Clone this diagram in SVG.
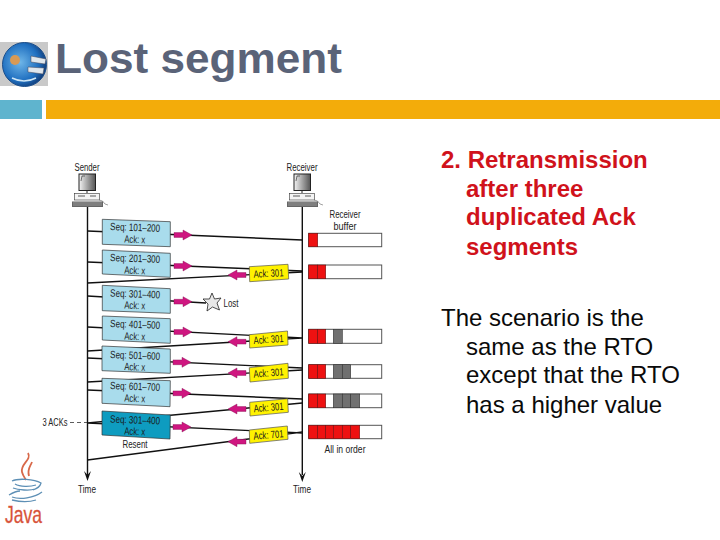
<svg xmlns="http://www.w3.org/2000/svg" width="720" height="540" viewBox="0 0 720 540">
<style>
text{font-family:"Liberation Sans",Arial,sans-serif}
.t{font-size:42px;font-weight:bold;fill:#5a6378}
.b{font-size:24px;font-weight:bold;fill:#d0121b}
.n{font-size:24px;fill:#0a0a0a}
.l{font-size:10px;fill:#222;text-anchor:middle}
.s{font-size:10.500px;fill:#1a1a1a;text-anchor:middle}
.c{stroke:#111;stroke-width:1.400;fill:none}
.seq{fill:#a9dcec;stroke:#333;stroke-width:.7}
.res{fill:#0e9cc0;stroke:#333;stroke-width:.7}
.ack{fill:#fff200;stroke:#555;stroke-width:.7}
.p{fill:#cf1680;stroke:#80104e;stroke-width:.4}
.buf{fill:#fff;stroke:#555;stroke-width:1}
.r{fill:#ee1111;stroke:#701010;stroke-width:.6}
.g{fill:#707070;stroke:#333;stroke-width:.6}
</style>
<defs>
<path id="ra" d="M0,-2.400H9V-5L18,0L9,5V2.400H0Z"/>
<path id="la" d="M18,-2.400H9V-5L0,0L9,5V2.400H18Z"/>
<linearGradient id="scr"><stop offset="0" stop-color="#f4f4f4"/><stop offset="1" stop-color="#555"/></linearGradient>
<radialGradient id="globe" cx=".4" cy=".45" r=".6"><stop offset="0" stop-color="#6fb6e8"/><stop offset=".7" stop-color="#1f6fc0"/><stop offset="1" stop-color="#123f7c"/></radialGradient>
<g id="pc">
<rect x="0" y="0" width="16.500" height="16.500" fill="url(#scr)" stroke="#222"/>
<path d="M3,2L2,7M3,2H6" stroke="#222" stroke-width=".6" fill="none"/>
<path d="M8,17V19" stroke="#222"/>
<rect x="-4.500" y="19.500" width="25" height="6.500" fill="#f4f4f4" stroke="#333" stroke-width=".6"/>
<path d="M-1,22H6M11,22H17" stroke="#333" stroke-width=".8"/>
<rect x="-7" y="27.500" width="31" height="5.500" fill="#666"/>
<path d="M-6,29H23M-6,31H23" stroke="#ccc" stroke-width=".5"/>
<path d="M20,26Q24,26 26,30L29,31" stroke="#444" stroke-width=".5" fill="none"/>
</g>
</defs>
<rect width="720" height="540" fill="#fff"/>
<g id="logo">
<rect x="0" y="42" width="48" height="44" fill="#c9c9c9"/>
<circle cx="24.500" cy="64.500" r="22" fill="url(#globe)" stroke="#1c4f8c" stroke-width="1"/>
<circle cx="15" cy="60" r="5" fill="#d99a55"/>
<path d="M31,56L46,59L45,64L31,62ZM28,67L44,68L43,74L28,72Z" fill="#dfe6ec" stroke="#445" stroke-width=".5"/>
<path d="M12,78Q24,84 36,78" stroke="#cfe6f5" stroke-width="1.500" fill="none"/>
</g>
<text class="t" x="55" y="73" textLength="287" lengthAdjust="spacingAndGlyphs">Lost segment</text>
<g id="header-bars">
<rect x="0" y="100" width="42" height="19" fill="#5fb4ce"/>
<rect x="46" y="100" width="674" height="19" fill="#f3ac0a"/>
</g>
<g id="connectors">
<path class="c" d="M87.500,207V475M302.300,207V475"/>
<path d="M84,471L87.500,481L91,471L87.500,475ZM298.800,472L302.300,482L305.800,472L302.300,476Z" fill="#111"/>
<path class="c" d="M87.500,231L302.300,240M87.500,262L302.300,271M302.300,272L87.500,283M87.500,296L206,303M87.500,327L302.300,338M302.300,338L87.500,351M87.500,358L302.300,368M302.300,370L87.500,382M87.500,390L302.300,399M302.300,403L87.500,423M87.500,423L302.300,433M302.300,432L87.500,460"/>
<path d="M70,422.500H87" stroke="#333" stroke-width=".8" stroke-dasharray="4 3"/>
</g>
<g id="sender"><text class="l" x="87" y="171" textLength="25" lengthAdjust="spacingAndGlyphs">Sender</text><use href="#pc" x="79" y="174"/></g>
<g id="receiver"><text class="l" x="302" y="171" textLength="31" lengthAdjust="spacingAndGlyphs">Receiver</text><use href="#pc" x="294" y="174"/></g>
<text class="l" x="345" y="218" textLength="31" lengthAdjust="spacingAndGlyphs">Receiver</text>
<text class="l" x="345" y="230" textLength="23" lengthAdjust="spacingAndGlyphs">buffer</text>
<g id="seg1"><polygon class="seq" points="102.300,219.300 170.300,221.700 170.300,246.700 102.300,244.300"/><g transform="rotate(2 136 233)"><text class="s" x="135" y="231" textLength="50" lengthAdjust="spacingAndGlyphs">Seq: 101–200</text><text class="s" x="135" y="243" textLength="21" lengthAdjust="spacingAndGlyphs">Ack: x</text></g><use class="p" href="#ra" x="174" y="235"/></g>
<g id="seg2"><polygon class="seq" points="102.300,250 170.300,253.300 170.300,277.300 102.300,274"/><g transform="rotate(2 136 264)"><text class="s" x="135" y="262" textLength="50" lengthAdjust="spacingAndGlyphs">Seq: 201–300</text><text class="s" x="135" y="274" textLength="21" lengthAdjust="spacingAndGlyphs">Ack: x</text></g><use class="p" href="#ra" x="174" y="266"/></g>
<g id="seg3"><polygon class="seq" points="102.300,285.300 170.300,288.700 170.300,313.300 102.300,310.700"/><g transform="rotate(2 136 299)"><text class="s" x="135" y="297.500" textLength="50" lengthAdjust="spacingAndGlyphs">Seq: 301–400</text><text class="s" x="135" y="309" textLength="21" lengthAdjust="spacingAndGlyphs">Ack: x</text></g><use class="p" href="#ra" x="174" y="301.700"/></g>
<g id="seg4"><polygon class="seq" points="102.300,316 170.300,318.700 170.300,343.300 102.300,340"/><g transform="rotate(2 136 330)"><text class="s" x="135" y="328" textLength="50" lengthAdjust="spacingAndGlyphs">Seq: 401–500</text><text class="s" x="135" y="340" textLength="21" lengthAdjust="spacingAndGlyphs">Ack: x</text></g><use class="p" href="#ra" x="174" y="332"/></g>
<g id="seg5"><polygon class="seq" points="102,346 170.300,349 170.300,373.300 102,370.700"/><g transform="rotate(2 136 360)"><text class="s" x="135" y="359" textLength="50" lengthAdjust="spacingAndGlyphs">Seq: 501–600</text><text class="s" x="135" y="370.500" textLength="21" lengthAdjust="spacingAndGlyphs">Ack: x</text></g><use class="p" href="#ra" x="173" y="362.300"/></g>
<g id="seg6"><polygon class="seq" points="102,378.300 170.300,380.700 170,406.700 102,403.300"/><g transform="rotate(2 136 392)"><text class="s" x="135" y="390" textLength="50" lengthAdjust="spacingAndGlyphs">Seq: 601–700</text><text class="s" x="135" y="402" textLength="21" lengthAdjust="spacingAndGlyphs">Ack: x</text></g><use class="p" href="#ra" x="173" y="393.300"/></g>
<g id="seg7"><polygon class="res" points="102,411 170.300,415 170,439 102,435"/><g transform="rotate(2 136 425)"><text class="s" x="135" y="423.500" textLength="50" lengthAdjust="spacingAndGlyphs">Seq: 301–400</text><text class="s" x="135" y="435" textLength="21" lengthAdjust="spacingAndGlyphs">Ack: x</text></g><use class="p" href="#ra" x="173" y="427"/></g>
<text class="l" x="135" y="448" textLength="25" lengthAdjust="spacingAndGlyphs">Resent</text>
<g id="lost"><polygon points="212,293 214.500,299 221,298 217,303 219.500,310 212.500,307 207,311 208,304 203,299 209.500,299" fill="#e8e8e8" stroke="#222" stroke-width=".8"/><text class="l" x="231" y="307" textLength="15" lengthAdjust="spacingAndGlyphs">Lost</text></g>
<text class="l" x="55" y="426" textLength="25" lengthAdjust="spacingAndGlyphs">3 ACKs</text>
<text class="l" x="87" y="493" textLength="18" lengthAdjust="spacingAndGlyphs">Time</text>
<text class="l" x="302" y="493" textLength="18" lengthAdjust="spacingAndGlyphs">Time</text>
<text class="l" x="345" y="453" textLength="41" lengthAdjust="spacingAndGlyphs">All in order</text>
<g id="ack1"><polygon class="ack" points="249.300,266.700 288,264.300 288.700,279 249.700,281.700"/><text class="s" x="268.500" y="277" textLength="30" lengthAdjust="spacingAndGlyphs" transform="rotate(-3 268 273)">Ack: 301</text><use class="p" href="#la" x="228" y="275"/></g>
<g id="ack2"><polygon class="ack" points="249.300,334.700 287.500,331 288,345 249.700,348"/><text class="s" x="268.500" y="343" textLength="30" lengthAdjust="spacingAndGlyphs" transform="rotate(-4 268 339)">Ack: 301</text><use class="p" href="#la" x="228" y="341.700"/></g>
<g id="ack3"><polygon class="ack" points="249.300,367.700 288,363.300 288.300,378.300 250,382"/><text class="s" x="268.500" y="376.500" textLength="30" lengthAdjust="spacingAndGlyphs" transform="rotate(-5 268 373)">Ack: 301</text><use class="p" href="#la" x="228" y="373"/></g>
<g id="ack4"><polygon class="ack" points="249.700,402.300 287.700,398.700 288.300,412.300 250,416"/><text class="s" x="268.500" y="411" textLength="30" lengthAdjust="spacingAndGlyphs" transform="rotate(-5 268 407)">Ack: 301</text><use class="p" href="#la" x="228" y="409"/></g>
<g id="ack5"><polygon class="ack" points="249.300,430 287.300,426 288,439.300 249.700,443.300"/><text class="s" x="268.500" y="438.500" textLength="30" lengthAdjust="spacingAndGlyphs" transform="rotate(-5 268 435)">Ack: 701</text><use class="p" href="#la" x="228" y="441.700"/></g>
<g id="buffer1"><rect class="buf" x="308.700" y="233.300" width="73" height="13.400"/><rect class="r" x="308.700" y="233.300" width="9" height="13.400"/></g>
<g id="buffer2"><rect class="buf" x="308.700" y="265" width="73" height="13.700"/><rect class="r" x="308.700" y="265" width="9" height="13.700"/><rect class="r" x="317.700" y="265" width="8" height="13.700"/></g>
<g id="buffer3"><rect class="buf" x="308.700" y="329.300" width="73" height="14"/><rect class="r" x="308.700" y="329.300" width="9" height="14"/><rect class="r" x="317.700" y="329.300" width="8" height="14"/><rect class="g" x="333.300" y="329.300" width="9" height="14"/></g>
<g id="buffer4"><rect class="buf" x="308.700" y="364.700" width="73" height="13.600"/><rect class="r" x="308.700" y="364.700" width="9" height="13.600"/><rect class="r" x="317.700" y="364.700" width="8" height="13.600"/><rect class="g" x="333.300" y="364.700" width="9" height="13.600"/><rect class="g" x="342.300" y="364.700" width="8.400" height="13.600"/></g>
<g id="buffer5"><rect class="buf" x="308.700" y="394" width="73" height="13.700"/><rect class="r" x="308.700" y="394" width="9" height="13.700"/><rect class="r" x="317.700" y="394" width="8" height="13.700"/><rect class="g" x="333.300" y="394" width="9" height="13.700"/><rect class="g" x="342.300" y="394" width="8.400" height="13.700"/><rect class="g" x="350.700" y="394" width="9" height="13.700"/></g>
<g id="buffer6"><rect class="buf" x="308.700" y="425.300" width="73" height="13.400"/><rect class="r" x="308.700" y="425.300" width="9" height="13.400"/><rect class="r" x="317.700" y="425.300" width="8" height="13.400"/><rect class="r" x="325.700" y="425.300" width="7.600" height="13.400"/><rect class="r" x="333.300" y="425.300" width="9" height="13.400"/><rect class="r" x="342.300" y="425.300" width="8.400" height="13.400"/><rect class="r" x="350.700" y="425.300" width="9" height="13.400"/></g>
<g id="body">
<text class="b" x="441" y="167.500">2. Retransmission</text>
<text class="b" x="466" y="196.500">after three</text>
<text class="b" x="466" y="225">duplicated Ack</text>
<text class="b" x="466" y="254.500">segments</text>
<text class="n" x="441" y="325.500">The scenario is the</text>
<text class="n" x="466" y="354.500">same as the RTO</text>
<text class="n" x="466" y="383">except that the RTO</text>
<text class="n" x="466" y="412.500">has a higher value</text>
</g>
<g id="java">
<path d="M28,453C32,460 20,464 22,472C23,476 25,478 26,480M32,462C30,467 27,469 29,476" stroke="#d8694a" stroke-width="1.800" fill="none"/>
<path d="M12,481C18,478 34,479 41,483C40,487 36,489 33,490M15,484C20,487 30,487 36,485M13,488C18,490 30,491 35,489M9,495C14,492 18,491 20,491M12,497C20,500 34,498 42,492M12,500C20,502 30,502 36,500" stroke="#5d8fb5" stroke-width="1.300" fill="none"/>
<text x="5" y="523" style="font-size:24px;fill:#d8533a;stroke:#d8533a;stroke-width:.3" textLength="37" lengthAdjust="spacingAndGlyphs">Java</text>
</g>
</svg>
